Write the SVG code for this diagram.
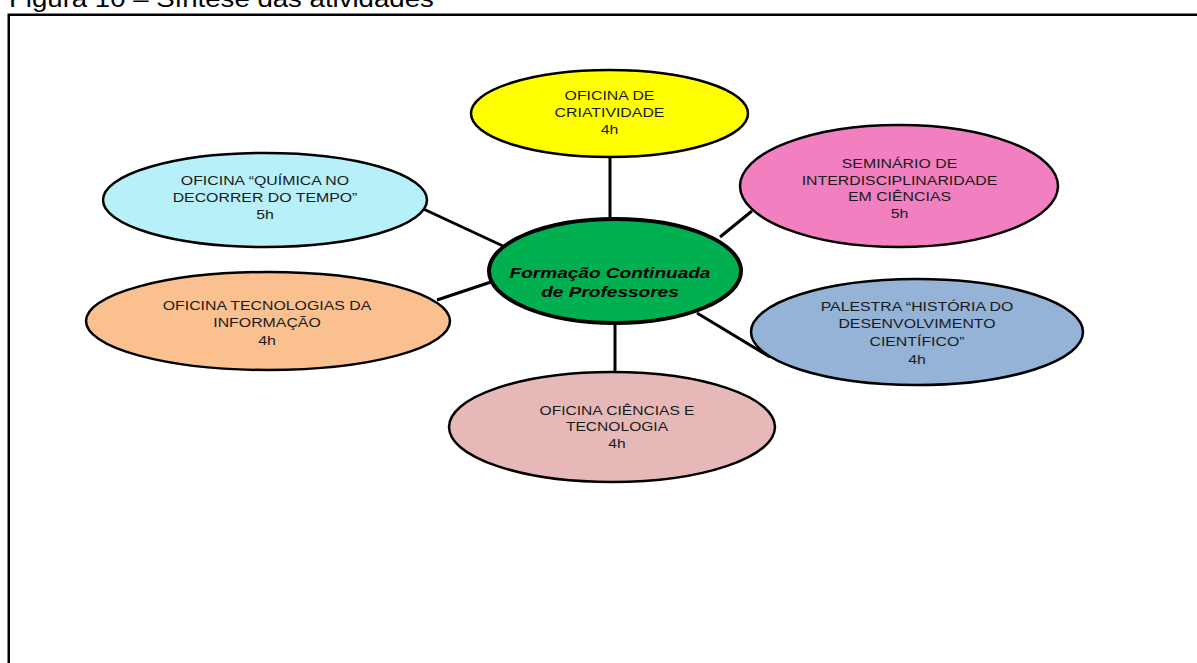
<svg xmlns="http://www.w3.org/2000/svg" width="1197" height="663" viewBox="0 0 1197 663">
<style>
.node{stroke:#000;stroke-width:2.5}
.lbl{font-family:"Liberation Sans",Arial,sans-serif;font-size:13px;fill:#1a1a1a;text-anchor:middle}
.ctr{font-family:"Liberation Sans",Arial,sans-serif;font-size:15px;font-weight:bold;font-style:italic;fill:#000;text-anchor:middle}
.conn{stroke:#000;stroke-width:3;fill:none}
</style>
<rect x="0" y="0" width="1197" height="663" fill="#fff"/>
<text transform="translate(9 7) scale(1.2 1)" font-family="Liberation Sans,Arial,sans-serif" font-size="23" fill="#000">Figura 10 – Síntese das atividades</text>
<rect x="8.75" y="14.75" width="1200" height="700" fill="none" stroke="#000" stroke-width="2.5"/>
<g id="connectors">
<line class="conn" x1="610" y1="157" x2="610" y2="224"/>
<line class="conn" x1="417" y1="206" x2="503" y2="246"/>
<line class="conn" x1="720" y1="237" x2="752" y2="211"/>
<line class="conn" x1="437" y1="300" x2="491" y2="282"/>
<line class="conn" x1="697" y1="313" x2="770" y2="357"/>
<line class="conn" x1="615" y1="323" x2="615" y2="372"/>
</g>
<g id="n-criatividade">
<ellipse class="node" cx="609.5" cy="113.5" rx="138.5" ry="43.5" fill="#FFFF00"/>
<g transform="translate(609.5 0) scale(1.22 1)">
<text class="lbl" x="0" y="100">OFICINA DE</text>
<text class="lbl" x="0" y="117">CRIATIVIDADE</text>
<text class="lbl" x="0" y="134">4h</text>
</g>
</g>
<g id="n-quimica">
<ellipse class="node" cx="265" cy="200" rx="162" ry="47" fill="#B7F0F8"/>
<g transform="translate(265 0) scale(1.22 1)">
<text class="lbl" x="0" y="185">OFICINA “QUÍMICA NO</text>
<text class="lbl" x="0" y="202">DECORRER DO TEMPO”</text>
<text class="lbl" x="0" y="219">5h</text>
</g>
</g>
<g id="n-seminario">
<ellipse class="node" cx="899" cy="186" rx="159" ry="61" fill="#F27FC0"/>
<g transform="translate(899.5 0) scale(1.22 1)">
<text class="lbl" x="0" y="168">SEMINÁRIO DE</text>
<text class="lbl" x="0" y="185">INTERDISCIPLINARIDADE</text>
<text class="lbl" x="0" y="201">EM CIÊNCIAS</text>
<text class="lbl" x="0" y="218">5h</text>
</g>
</g>
<g id="n-formacao">
<ellipse cx="615" cy="271" rx="126" ry="52" fill="#00B050" stroke="#000" stroke-width="4"/>
<g transform="translate(610 0) scale(1.27 1)">
<text class="ctr" x="0" y="278">Formação Continuada</text>
<text class="ctr" x="0" y="297">de Professores</text>
</g>
</g>
<g id="n-tecnologias">
<ellipse class="node" cx="268" cy="321" rx="182" ry="49" fill="#FAC090"/>
<g transform="translate(267 0) scale(1.22 1)">
<text class="lbl" x="0" y="310">OFICINA TECNOLOGIAS DA</text>
<text class="lbl" x="0" y="327">INFORMAÇÃO</text>
<text class="lbl" x="0" y="345">4h</text>
</g>
</g>
<g id="n-palestra">
<ellipse class="node" cx="917" cy="332" rx="166" ry="53" fill="#95B3D7"/>
<g transform="translate(917 0) scale(1.22 1)">
<text class="lbl" x="0" y="311">PALESTRA “HISTÓRIA DO</text>
<text class="lbl" x="0" y="328">DESENVOLVIMENTO</text>
<text class="lbl" x="0" y="346">CIENTÍFICO”</text>
<text class="lbl" x="0" y="364">4h</text>
</g>
</g>
<g id="n-ciencias">
<ellipse class="node" cx="612" cy="427" rx="163" ry="55" fill="#E6B9B8"/>
<g transform="translate(617 0) scale(1.2 1)">
<text class="lbl" x="0" y="415">OFICINA CIÊNCIAS E</text>
<text class="lbl" x="0" y="431">TECNOLOGIA</text>
<text class="lbl" x="0" y="448">4h</text>
</g>
</g>
</svg>
